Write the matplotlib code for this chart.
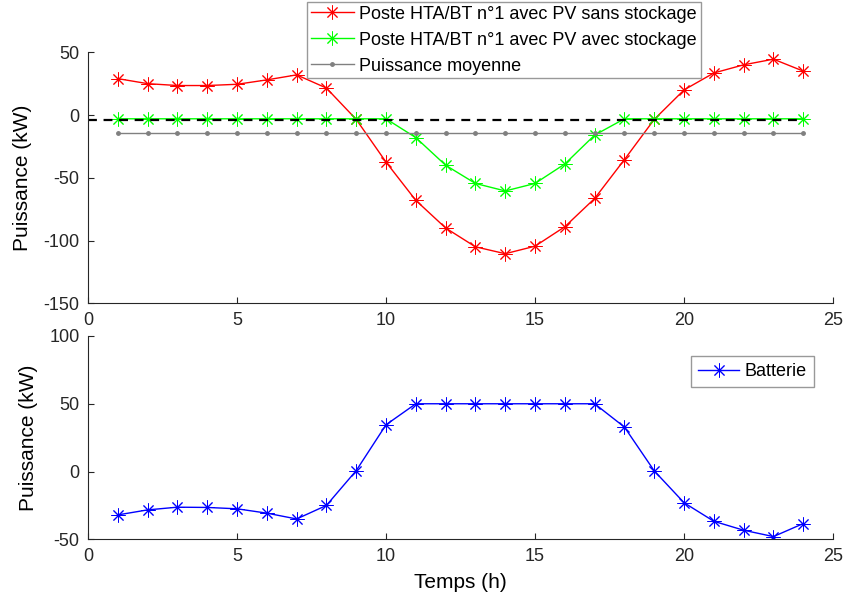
import numpy as np
import matplotlib.pyplot as plt

plt.rcParams["font.family"] = ["Liberation Sans", "DejaVu Sans"]
plt.rcParams["axes.unicode_minus"] = False

# Heures
heures = list(range(1, 25))

# Poste HTA/BT n°1 avec PV sans stockage (kW)
sans_stockage = [29, 25, 23.5, 23.5, 24.5, 28, 32, 21.5, -3.5, -37.5, -68, -90,
                 -105, -110.5, -104.5, -89, -66.5, -35.5, -3.5, 20, 33.5, 40, 44.5, 35]
# Poste HTA/BT n°1 avec PV avec stockage (kW)
avec_stockage = [-3, -3, -3, -3, -3, -3, -3, -3, -3, -3, -18, -40,
                 -54.5, -60.5, -54.5, -39, -16, -3, -3, -3, -3, -3, -3, -3]
# Puissance moyenne
puissance_moyenne = [-14] * 24
# Seuil (ligne pointillée)
seuil = -4.2
# Batterie (kW)
batterie = [-32, -28.3, -26.3, -26.5, -27.5, -30.7, -35, -25, 0.7, 34.5, 50, 50,
            50, 50, 50, 50, 50, 32.8, 0.5, -23, -36.7, -43.3, -48, -38.4]

couleur_axe = (0.15, 0.15, 0.15)
asterisque = (8, 2, 0)

fig = plt.figure(figsize=(8.44, 6.10), dpi=100)
ax1 = fig.add_axes([0.1043, 0.5028, 0.8827, 0.4115])
ax2 = fig.add_axes([0.1043, 0.1159, 0.8827, 0.3333])

# Graphique du haut
l1, = ax1.plot(heures, sans_stockage, color="red", marker=asterisque, markersize=10,
               markeredgewidth=0.7, linewidth=1, label="Poste HTA/BT n°1 avec PV sans stockage")
l2, = ax1.plot(heures, avec_stockage, color="lime", marker=asterisque, markersize=10,
               markeredgewidth=0.7, linewidth=1, label="Poste HTA/BT n°1 avec PV avec stockage")
l3, = ax1.plot(heures, puissance_moyenne, color="gray", marker=".", markersize=5,
               linewidth=1, label="Puissance moyenne")
ax1.plot([0, 24], [seuil, seuil], color="black", linestyle=(0, (4, 3)), linewidth=1.6)
ax1.set_xlim(0, 25)
ax1.set_ylim(-150, 50)
ax1.set_yticks([-150, -100, -50, 0, 50])
ax1.set_ylabel("Puissance (kW)", fontsize=15, labelpad=8)
leg1 = fig.legend(handles=[l1, l2, l3], loc="upper left", bbox_to_anchor=(0.3637, 0.9966),
                  borderaxespad=0, fontsize=13, frameon=True, fancybox=False,
                  edgecolor="gray", borderpad=0.2, labelspacing=0.5,
                  handlelength=2.4, handletextpad=0.3)
leg1.get_frame().set_linewidth(1)

# Graphique du bas
l4, = ax2.plot(heures, batterie, color="blue", marker=asterisque, markersize=10,
               markeredgewidth=0.7, linewidth=1, label="Batterie")
ax2.set_xlim(0, 25)
ax2.set_ylim(-50, 100)
ax2.set_yticks([-50, 0, 50, 100])
ax2.set_ylabel("Puissance (kW)", fontsize=15, labelpad=8)
ax2.set_xlabel("Temps (h)", fontsize=15, labelpad=6)
leg2 = ax2.legend(loc="upper right", bbox_to_anchor=(0.9745, 0.9016), borderaxespad=0,
                  fontsize=13, fancybox=False, edgecolor="gray", handlelength=2.3,
                  handletextpad=0.3, borderpad=0.4)
leg2.get_frame().set_linewidth(1)

for ax in (ax1, ax2):
    ax.set_xticks([0, 5, 10, 15, 20, 25])
    ax.spines["top"].set_visible(False)
    ax.spines["right"].set_visible(False)
    for s in ("left", "bottom"):
        ax.spines[s].set_color(couleur_axe)
    ax.tick_params(direction="in", length=4, labelsize=13, colors=couleur_axe, pad=6)

fig.savefig("out.png", dpi=100)
